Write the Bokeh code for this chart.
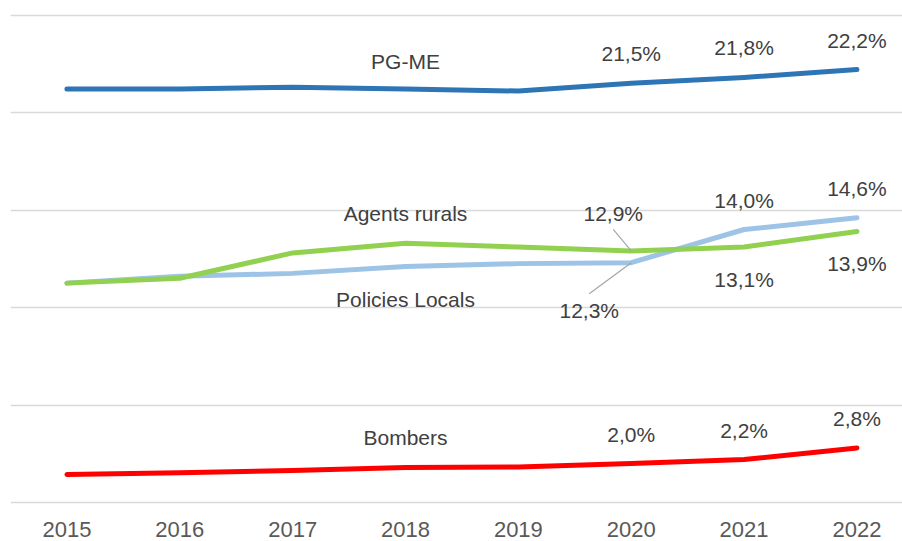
from bokeh.plotting import figure
from bokeh.models import Range1d, ColumnDataSource, LabelSet, FixedTicker, Grid
from bokeh.core.properties import value
from bokeh.embed import file_html
from bokeh.resources import INLINE

# ---- data ----
years = [2015, 2016, 2017, 2018, 2019, 2020, 2021, 2022]
year_labels = ["2015", "2016", "2017", "2018", "2019", "2020", "2021", "2022"]
pgme = [21.2, 21.2, 21.3, 21.2, 21.1, 21.5, 21.8, 22.2]
policies = [11.25, 11.6, 11.75, 12.1, 12.25, 12.3, 14.0, 14.6]
agents = [11.25, 11.5, 12.8, 13.3, 13.1, 12.9, 13.1, 13.9]
bombers = [1.44, 1.52, 1.64, 1.80, 1.82, 2.0, 2.2, 2.8]
series_names = ["PG-ME", "Agents rurals", "Policies Locals", "Bombers"]
grid_ticks = [0, 5, 10, 15, 20, 25]

# ---- layout constants (pixels per unit) ----
PX_X = 112.86
PX_Y = 19.5
W, H = 902, 541
LEFT = 10
ZERO_Y = 502  # canvas y of 0 %

p = figure(width=W, height=H, output_backend="svg", toolbar_location=None,
           x_range=Range1d(2014.5, 2014.5 + (W - LEFT) / PX_X),
           y_range=Range1d(-(H - ZERO_Y) / PX_Y, ZERO_Y / PX_Y),
           x_axis_type=None, y_axis_type=None,
           min_border_left=LEFT, min_border_right=0,
           min_border_top=0, min_border_bottom=0)
p.outline_line_color = None
p.background_fill_color = "white"
p.border_fill_color = "white"

p.add_layout(Grid(dimension=1, ticker=FixedTicker(ticks=grid_ticks),
                  grid_line_color="#D9D9D9", grid_line_width=1.5))

LW = 5
p.line(years, pgme, line_color="#2E75B6", line_width=LW, line_cap="round", line_join="round")
p.line(years, policies, line_color="#9DC3E6", line_width=LW, line_cap="round", line_join="round")
p.line(years, agents, line_color="#92D050", line_width=LW, line_cap="round", line_join="round")
p.line(years, bombers, line_color="#FF0000", line_width=LW, line_cap="round", line_join="round")

# leader lines for the 2020 labels
i20 = years.index(2020)
p.segment(x0=[years[i20], years[i20]],
          y0=[agents[i20], policies[i20]],
          x1=[years[i20] - 18 / PX_X, years[i20] - 42 / PX_X],
          y1=[agents[i20] + 21.5 / PX_Y, policies[i20] - 31 / PX_Y],
          line_color="#A6A6A6", line_width=1.2)

def fmt(v):
    return f"{v:.1f}%".replace(".", ",")

lx, ly, lt, lxo, lyo = [], [], [], [], []

def add(x, y, t, xo, yo):
    lx.append(x); ly.append(y); lt.append(t); lxo.append(xo); lyo.append(yo)

for i in range(5, 8):
    add(years[i], pgme[i], fmt(pgme[i]), 0, 29.5)
    add(years[i], bombers[i], fmt(bombers[i]), 0, 29)
for i in range(6, 8):
    add(years[i], policies[i], fmt(policies[i]), 0, 29)
    add(years[i], agents[i], fmt(agents[i]), 0, -32)
add(years[i20], agents[i20], fmt(agents[i20]), -18, 37)
add(years[i20], policies[i20], fmt(policies[i20]), -42, -48)

i18 = years.index(2018)
add(years[i18], pgme[i18], series_names[0], 0, 28)
add(years[i18], agents[i18], series_names[1], 0, 30)
add(years[i18], policies[i18], series_names[2], 0, -32.5)
add(years[i18], bombers[i18], series_names[3], 0, 30)

FONT = value("Liberation Sans")

src = ColumnDataSource(dict(x=lx, y=ly, text=lt, xo=lxo, yo=lyo))
p.add_layout(LabelSet(source=src, x="x", y="y", text="text", x_offset="xo", y_offset="yo",
                      text_align="center", text_baseline="middle",
                      text_font=FONT, text_font_size=value("21px"),
                      text_color=value("#404040")))

ysrc = ColumnDataSource(dict(x=years, y=[0] * len(years), text=year_labels))
p.add_layout(LabelSet(source=ysrc, x="x", y="y", text="text", y_offset=-27,
                      text_align="center", text_baseline="middle",
                      text_font=FONT, text_font_size=value("22px"),
                      text_color=value("#595959")))

open("out.html", "w").write(file_html(p, INLINE))
